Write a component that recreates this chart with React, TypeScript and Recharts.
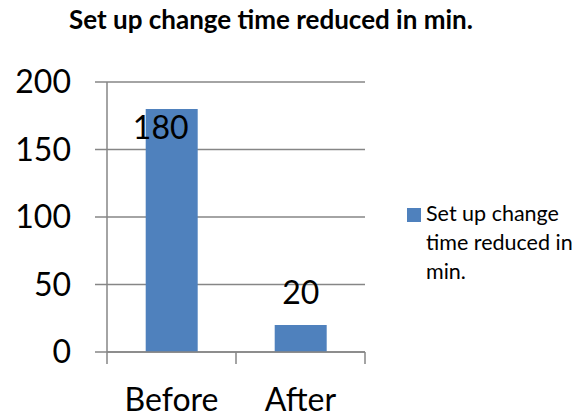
import { BarChart, Bar, XAxis, YAxis, CartesianGrid, LabelList } from 'recharts';

const categories = ['Before', 'After'];
const setupMinutes = [180, 20];
const yTicks = [0, 50, 100, 150, 200];

const seriesName = 'Set up change time reduced in min.';
const title = 'Set up change time reduced in min.';

const BAR_COLOR = '#4F81BD';
const GRID_COLOR = '#868686';
const FONT = 'Lato, "Open Sans", sans-serif';
const TOP = 82;

const data = categories.map((name, i) => ({ name, value: setupMinutes[i] }));

// labels sit above the bar unless they would run past the plot top, then inside
// eslint-disable-next-line @typescript-eslint/no-explicit-any
const renderValueLabel = (props: any) => {
    const { x, y, width, value } = props;
    const above = y - 34 - 12 > TOP;
    const cx = x + width / 2 + (above ? 0 : -11);
    const cy = above ? y - 34 : y + 17;
    return (
        <text
            x={cx}
            y={cy}
            textAnchor="middle"
            dominantBaseline="central"
            fontFamily={FONT}
            fontSize={32}
            fill="#000"
        >
            {value}
        </text>
    );
};

// category label plus the tick marks on the band edges (excel style)
// eslint-disable-next-line @typescript-eslint/no-explicit-any
const CategoryTick = (props: any) => {
    const { x, y, payload, index, visibleTicksCount } = props;
    const half = payload.offset || 0;
    const isLast = index === visibleTicksCount - 1;
    return (
        <g>
            <line x1={x - half} x2={x - half} y1={y} y2={y + 12} stroke={GRID_COLOR} strokeWidth={1.5} />
            {isLast && (
                <line x1={x + half} x2={x + half} y1={y} y2={y + 12} stroke={GRID_COLOR} strokeWidth={1.5} />
            )}
            <text
                x={x}
                y={y + 36}
                dy="0.71em"
                textAnchor="middle"
                fontFamily={FONT}
                fontSize={32}
                fill="#000"
            >
                {payload.value}
            </text>
        </g>
    );
};

export default function App() {
    return (
        <div
            style={{
                position: 'absolute',
                left: 0,
                top: 0,
                width: 576,
                height: 417,
                overflow: 'hidden',
                background: '#fff',
            }}
        >
            <div
                style={{
                    position: 'absolute',
                    left: 0,
                    top: 3,
                    width: 542,
                    textAlign: 'center',
                    fontFamily: FONT,
                    fontWeight: 700,
                    fontSize: 26,
                    color: '#000',
                }}
            >
                {title}
            </div>

            <BarChart
                width={576}
                height={417}
                data={data}
                margin={{ top: TOP, right: 211, bottom: 0, left: 0 }}
                barCategoryGap="30%"
            >
                <CartesianGrid horizontal vertical={false} stroke={GRID_COLOR} strokeWidth={1.5} />
                <XAxis
                    dataKey="name"
                    stroke={GRID_COLOR}
                    strokeWidth={1.5}
                    tickLine={false}
                    tickSize={0}
                    tickMargin={0}
                    height={65}
                    tick={<CategoryTick />}
                />
                <YAxis
                    domain={[0, 200]}
                    ticks={yTicks}
                    width={107}
                    tickSize={12}
                    tickMargin={24}
                    stroke={GRID_COLOR}
                    strokeWidth={1.5}
                    tick={{ fontFamily: FONT, fontSize: 32, fill: '#000' }}
                />
                <Bar dataKey="value" name={seriesName} fill={BAR_COLOR} isAnimationActive={false}>
                    <LabelList dataKey="value" content={renderValueLabel} />
                </Bar>
            </BarChart>

            <div
                style={{
                    position: 'absolute',
                    left: 407,
                    top: 199,
                    width: 180,
                    display: 'flex',
                    alignItems: 'flex-start',
                    fontFamily: FONT,
                    fontSize: 21.5,
                    lineHeight: '29px',
                    color: '#000',
                }}
            >
                <div style={{ width: 14, height: 14, marginTop: 9, background: BAR_COLOR, flexShrink: 0 }} />
                <div style={{ marginLeft: 5, width: 158 }}>{seriesName}</div>
            </div>
        </div>
    );
}
